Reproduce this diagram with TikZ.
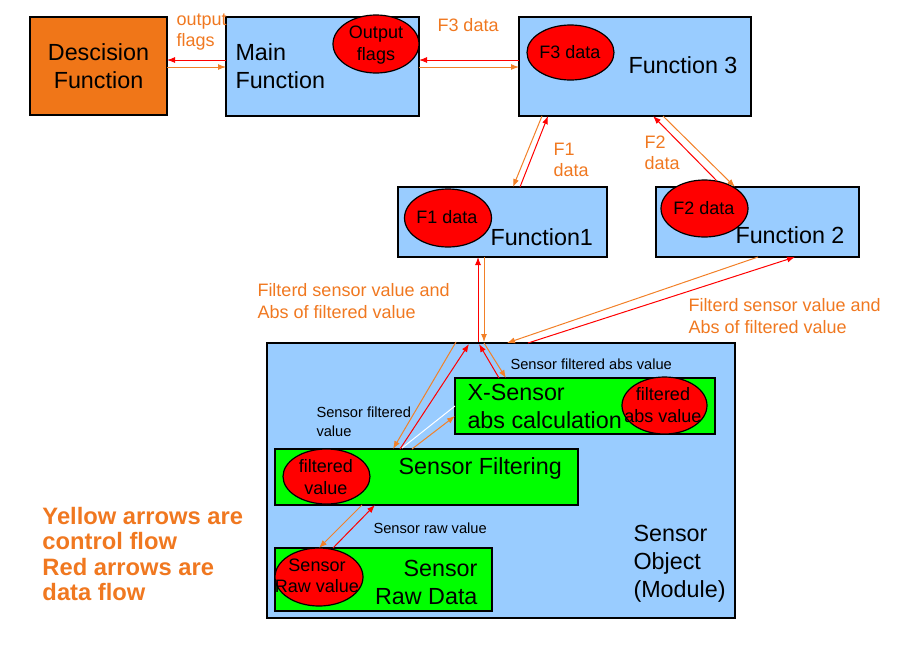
\documentclass[tikz,border=0pt]{standalone}
\usepackage{fontspec}
\setmainfont{Liberation Sans}
\usetikzlibrary{shapes.geometric,arrows.meta}

\definecolor{boxblue}{RGB}{153,204,255}
\definecolor{boxgreen}{RGB}{0,255,0}
\definecolor{decorange}{RGB}{240,118,24}
\definecolor{flowred}{RGB}{255,0,0}
\definecolor{floworange}{RGB}{242,128,40}
\definecolor{labelorange}{RGB}{240,120,32}

\tikzset{every picture/.style={line width=0.75pt}}
\tikzset{
  fnbox/.style={draw=black, line width=1.1pt, rectangle, inner sep=0pt},
  dataell/.style={draw=black, line width=0.9pt, fill=flowred, ellipse, inner sep=0pt},
  elltxt/.style={inner sep=0pt, align=center, font=\fontsize{13.5}{16}\selectfont},
  bigtxt/.style={inner sep=0pt, align=left, font=\fontsize{17.5}{21}\selectfont},
  flowlab/.style={inner sep=0pt, align=left, text=labelorange, font=\fontsize{13.5}{16}\selectfont},
  smalllab/.style={inner sep=0pt, align=left, font=\fontsize{11}{14}\selectfont},
  dataflow/.style={draw=flowred, line width=0.75pt, -{Latex[length=6pt,width=4.5pt]}},
  ctrlflow/.style={draw=floworange, line width=0.75pt, -{Latex[length=6pt,width=4.5pt]}}
}

\begin{document}
\begin{tikzpicture}[x=0.75pt,y=0.75pt,yscale=-1,xscale=1]
\useasboundingbox (0,0) rectangle (918,654);

%Shape: Rectangle [id:dec]
\node[fnbox, fill=decorange, minimum width=102.75pt, minimum height=73.5pt] (dec) at (98.5,66) {};
%Shape: Rectangle [id:main]
\node[fnbox, fill=boxblue, minimum width=144.75pt, minimum height=74.25pt] (main) at (322.5,66.5) {};
%Shape: Rectangle [id:fthree]
\node[fnbox, fill=boxblue, minimum width=174pt, minimum height=74.25pt] (fthree) at (635,66.5) {};
%Shape: Rectangle [id:fone]
\node[fnbox, fill=boxblue, minimum width=156.75pt, minimum height=52.5pt] (fone) at (502.5,222) {};
%Shape: Rectangle [id:ftwo]
\node[fnbox, fill=boxblue, minimum width=152.25pt, minimum height=52.5pt] (ftwo) at (757.5,222) {};
%Shape: Rectangle [id:sensobj]
\node[fnbox, fill=boxblue, minimum width=351pt, minimum height=206.25pt] (sensobj) at (501,480.5) {};
%Shape: Rectangle [id:xsens]
\node[fnbox, fill=boxgreen, minimum width=195pt, minimum height=42pt] (xsens) at (585,406) {};
%Shape: Rectangle [id:sfilt]
\node[fnbox, fill=boxgreen, minimum width=227.25pt, minimum height=42pt] (sfilt) at (426.5,477) {};
%Shape: Rectangle [id:sraw]
\node[fnbox, fill=boxgreen, minimum width=162.75pt, minimum height=47.25pt] (sraw) at (383.5,579.5) {};

%Shape: Ellipse
\node[dataell, minimum width=64.5pt, minimum height=43.5pt] (oflags) at (376,44) {};
\node[dataell, minimum width=65.25pt, minimum height=41.25pt] (fthreed) at (570.5,52.5) {};
\node[dataell, minimum width=65.25pt, minimum height=43.5pt] (foned) at (448,218) {};
\node[dataell, minimum width=65.25pt, minimum height=42.75pt] (ftwod) at (704.5,208.5) {};
\node[dataell, minimum width=63.75pt, minimum height=42.75pt] (fabs) at (664.5,405.5) {};
\node[dataell, minimum width=65.25pt, minimum height=41.25pt] (fval) at (326.5,476.5) {};
\node[dataell, minimum width=66pt, minimum height=43.5pt] (rawv) at (319,577) {};

% Text Node
\node[elltxt] (oflagstxt) at (376,45) {Output\\flags};
\node[elltxt] (fthreedtxt) at (570,52) {F3 data};
\node[elltxt] (fonedtxt) at (447,217) {F1 data};
\node[elltxt] (ftwodtxt) at (704,208) {F2 data};
\node[elltxt] (fabstxt) at (663,405) {filtered\\abs value};
\node[elltxt] (fvaltxt) at (326,477) {filtered\\value};
\node[elltxt] (rawvtxt) at (317,575.5) {Sensor\\Raw value};

% Text Node
\node[bigtxt, align=center] (dectxt) at (98.5,66) {Descision\\Function};
\node[bigtxt, anchor=west] (maintxt) at (235,66) {Main\\Function};
\node[bigtxt, anchor=west] (fthreetxt) at (628,65) {Function 3};
\node[bigtxt, anchor=west] (fonetxt) at (490,237) {Function1};
\node[bigtxt, anchor=west] (ftwotxt) at (735,235) {Function 2};
\node[bigtxt, anchor=west] (xsenstxt) at (467,406) {X-Sensor\\abs calculation};
\node[bigtxt, anchor=west] (sfilttxt) at (398,468) {Sensor Filtering};
\node[bigtxt, anchor=east, align=right] (srawtxt) at (478,582) {Sensor\\Raw Data};
\node[bigtxt, anchor=west] (sensobjtxt) at (633,564) {Sensor\\Object\\(Module)};

% Text Node
\node[flowlab, anchor=west] (outlab) at (176,32) {output\\flags};
\node[flowlab, anchor=west] (fthreelab) at (437,25) {F3 data};
\node[flowlab, anchor=west] (fonelab) at (553,160) {F1\\data};
\node[flowlab, anchor=west] (ftwolab) at (644,153) {F2\\data};
\node[flowlab, anchor=west] (fsvlabl) at (257,301) {Filterd sensor value and\\Abs of filtered value};
\node[flowlab, anchor=west] (fsvlabr) at (688,316) {Filterd sensor value and\\Abs of filtered value};
\node[inner sep=0pt, anchor=west, align=left, text=labelorange, font=\fontsize{17.8}{19}\selectfont\bfseries] (legend) at (42,554) {Yellow arrows are\\control flow\\Red arrows are\\data flow};

% Text Node
\node[smalllab, anchor=west] (sfavlab) at (510,364) {Sensor filtered abs value};
\node[smalllab, anchor=west] (sfvlab) at (316,422) {Sensor filtered\\value};
\node[smalllab, anchor=west] (srvlab) at (373,528) {Sensor raw value};

%Straight Lines: end points
\coordinate (decR) at (167,60);  \coordinate (mainLr) at (226,60);
\coordinate (decO) at (167,67);  \coordinate (mainLo) at (226,67);
\coordinate (mainRr) at (419,60); \coordinate (fthreeLr) at (519,60);
\coordinate (mainRo) at (419,67); \coordinate (fthreeLo) at (519,67);
\coordinate (fthreeBr1) at (548,116); \coordinate (foneTr) at (520,187);
\coordinate (fthreeBo1) at (542,116); \coordinate (foneTo) at (513,187);
\coordinate (fthreeBr2) at (653,116); \coordinate (ftwoTr) at (717,181);
\coordinate (fthreeBo2) at (663,116); \coordinate (ftwoTo) at (735,187);
\coordinate (foneBr) at (478,257); \coordinate (objTr1) at (478,342);
\coordinate (foneBo) at (484,257); \coordinate (objTo1) at (484,342);
\coordinate (ftwoBr) at (795,257); \coordinate (objTr2) at (528,343);
\coordinate (ftwoBo) at (758,257); \coordinate (objTo2) at (507,343);
\coordinate (objTr3) at (479,344); \coordinate (xsensTr) at (499,378);
\coordinate (objTo3) at (484,343); \coordinate (xsensTo) at (506,378);
\coordinate (objTr4) at (469,344); \coordinate (sfiltTr) at (400,449);
\coordinate (objTo4) at (456,342); \coordinate (sfiltTo) at (393,449);
\coordinate (sfiltTw) at (402,448); \coordinate (xsensLw) at (455,406);
\coordinate (sfiltTo2) at (412,449); \coordinate (xsensLo) at (455,416);
\coordinate (sfiltBr) at (375,505); \coordinate (rawTr) at (333,548);
\coordinate (sfiltBo) at (362,505); \coordinate (rawTo) at (319,548);

%Straight Lines: data flow
\draw[dataflow] (mainLr) -- (decR);
\draw[dataflow] (fthreeLr) -- (mainRr);
\draw[dataflow] (foneTr) -- (fthreeBr1);
\draw[dataflow] (ftwoTr) -- (fthreeBr2);
\draw[dataflow] (objTr1) -- (foneBr);
\draw[dataflow] (objTr2) -- (ftwoBr);
\draw[dataflow] (xsensTr) -- (objTr3);
\draw[dataflow] (sfiltTr) -- (objTr4);
\draw[dataflow] (rawTr) -- (sfiltBr);

%Straight Lines: control flow
\draw[ctrlflow] (decO) -- (mainLo);
\draw[ctrlflow] (mainRo) -- (fthreeLo);
\draw[ctrlflow] (fthreeBo1) -- (foneTo);
\draw[ctrlflow] (fthreeBo2) -- (ftwoTo);
\draw[ctrlflow] (foneBo) -- (objTo1);
\draw[ctrlflow] (ftwoBo) -- (objTo2);
\draw[ctrlflow] (objTo3) -- (xsensTo);
\draw[ctrlflow] (objTo4) -- (sfiltTo);
\draw[ctrlflow] (sfiltTo2) -- (xsensLo);
\draw[ctrlflow] (sfiltBo) -- (rawTo);
\draw[white, line width=0.75pt] (sfiltTw) -- (xsensLw);
\end{tikzpicture}
\end{document}
